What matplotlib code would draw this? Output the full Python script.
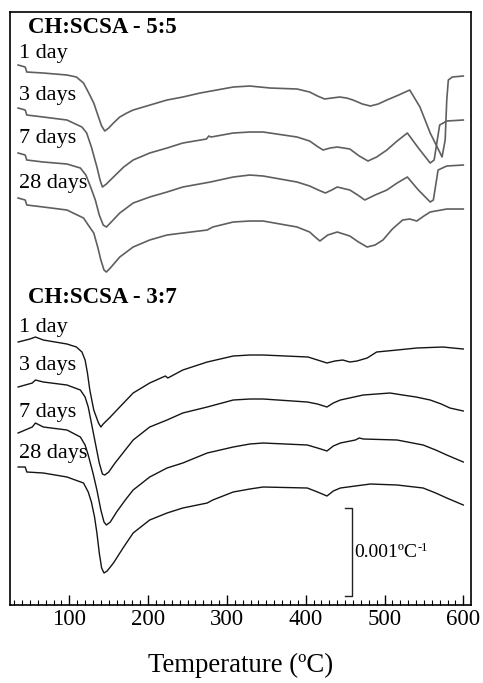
import matplotlib
matplotlib.use("Agg")
import matplotlib.pyplot as plt
from matplotlib.ticker import MultipleLocator

plt.rcParams['font.family'] = ['Liberation Serif', 'DejaVu Serif']

# ---- data: temperature (°C) and DTG signal relative to each curve start (arb. units, 88 = 0.001 °C^-1)
labels = ["1 day", "3 days", "7 days", "28 days"]

t55_1 = [35, 44, 46, 67, 97, 109, 118, 124, 131, 137, 141, 145, 150, 156, 164, 173, 181, 194, 211, 224, 244, 266, 287, 308, 329, 355, 389, 405, 415, 424, 433, 443, 452, 460, 472, 482, 492, 503, 518, 532, 545, 558, 570, 573, 577, 579, 581, 586, 600]
d55_1 = [0, -2, -7, -8, -10, -12, -18, -27, -38, -52, -61, -66, -63, -58, -52, -48, -45, -42, -38, -35, -32, -28, -25, -22, -21, -23, -24, -27, -31, -34, -33, -32, -33, -35, -39, -41, -39, -35, -30, -25, -42, -68, -87, -92, -75, -35, -15, -12, -11]
t55_3 = [35, 44, 46, 67, 97, 116, 122, 128, 135, 139, 142, 147, 156, 169, 181, 202, 224, 244, 274, 277, 280, 308, 329, 346, 389, 405, 414, 422, 431, 440, 456, 468, 479, 490, 503, 516, 529, 543, 558, 563, 570, 579, 600]
d55_3 = [0, -2, -7, -9, -12, -19, -25, -39, -59, -72, -79, -76, -69, -59, -52, -45, -40, -35, -31, -28, -29, -25, -24, -24, -29, -33, -38, -42, -40, -39, -41, -48, -53, -49, -42, -33, -25, -40, -55, -52, -17, -13, -12]
t55_7 = [35, 44, 46, 67, 97, 114, 121, 127, 133, 138, 143, 147, 152, 164, 181, 202, 224, 244, 279, 308, 329, 346, 389, 405, 416, 425, 433, 440, 456, 466, 475, 488, 503, 516, 529, 543, 558, 562, 568, 579, 600]
d55_7 = [0, -2, -7, -9, -11, -15, -22, -34, -47, -62, -72, -74, -70, -60, -50, -44, -39, -34, -29, -24, -22, -23, -29, -33, -37, -40, -37, -34, -37, -42, -47, -42, -37, -30, -24, -37, -49, -47, -17, -13, -12]
t55_28 = [35, 44, 46, 67, 97, 118, 124, 131, 136, 140, 144, 147, 152, 164, 181, 202, 224, 244, 275, 282, 308, 329, 346, 389, 405, 412, 418, 428, 440, 456, 467, 478, 488, 498, 510, 523, 532, 541, 550, 558, 579, 600]
d55_28 = [0, -2, -7, -9, -12, -20, -27, -35, -49, -62, -72, -74, -70, -59, -49, -42, -37, -35, -32, -29, -24, -23, -23, -29, -34, -39, -43, -37, -34, -38, -44, -49, -47, -42, -31, -22, -21, -23, -18, -14, -11, -11]

t37_1 = [35, 50, 57, 67, 97, 109, 116, 120, 123, 126, 131, 137, 140, 143, 152, 164, 181, 202, 219, 222, 225, 244, 275, 308, 329, 346, 403, 415, 427, 437, 447, 456, 465, 478, 490, 516, 541, 574, 600]
d37_1 = [0, 3, 5, 2, -2, -5, -10, -18, -31, -48, -68, -81, -85, -82, -75, -65, -51, -41, -35, -34, -36, -28, -20, -14, -13, -13, -15, -18, -21, -19, -18, -20, -19, -16, -10, -8, -6, -5, -7]
t37_3 = [35, 53, 57, 67, 97, 114, 120, 124, 128, 133, 138, 142, 145, 150, 158, 169, 181, 202, 224, 244, 275, 308, 329, 346, 402, 415, 427, 435, 444, 473, 507, 523, 540, 558, 572, 583, 600]
d37_3 = [0, 4, 7, 5, 2, -3, -10, -20, -36, -56, -76, -87, -88, -85, -76, -65, -53, -40, -33, -26, -20, -13, -12, -12, -15, -17, -20, -16, -13, -8, -6, -8, -10, -13, -17, -21, -24]
t37_7 = [35, 53, 57, 67, 97, 114, 120, 124, 130, 135, 140, 144, 147, 152, 160, 171, 181, 202, 224, 244, 275, 308, 329, 346, 402, 415, 427, 435, 444, 463, 468, 473, 516, 549, 565, 579, 600]
d37_7 = [0, 6, 10, 6, 3, -4, -12, -22, -40, -57, -77, -89, -92, -89, -79, -67, -57, -44, -35, -30, -20, -14, -11, -10, -12, -15, -18, -13, -10, -7, -5, -6, -7, -12, -17, -22, -29]
t37_28 = [35, 44, 46, 67, 97, 118, 124, 128, 132, 135, 138, 141, 144, 148, 156, 169, 181, 202, 224, 244, 275, 282, 308, 329, 346, 402, 415, 427, 435, 444, 482, 516, 549, 565, 579, 600]
d37_28 = [0, 0, -5, -6, -10, -16, -25, -35, -50, -66, -86, -101, -106, -104, -96, -80, -66, -53, -46, -41, -36, -33, -25, -22, -20, -21, -25, -29, -24, -21, -17, -18, -21, -26, -31, -38]

# vertical offsets of each curve start (arb. units)
off55 = [-65, -108, -153, -198]
off37 = [-342, -387, -433, -467]

panel_titles = ["CH:SCSA - 5:5", "CH:SCSA - 3:7"]
scale_label = "0.001ºC"
scale_sup = "-1"
scale_len = 88

fig = plt.figure(figsize=(4.83, 6.83), dpi=100)
ax = fig.add_axes([0.0207, 0.1142, 0.9545, 0.8682])

top_curves = [(t55_1, d55_1), (t55_3, d55_3), (t55_7, d55_7), (t55_28, d55_28)]
bot_curves = [(t37_1, d37_1), (t37_3, d37_3), (t37_7, d37_7), (t37_28, d37_28)]

for (t, d), o in zip(top_curves, off55):
    ax.plot(t, [v + o for v in d], color='#5f5f5f', lw=1.2, solid_joinstyle='round')
for (t, d), o in zip(bot_curves, off37):
    ax.plot(t, [v + o for v in d], color='#151515', lw=1.0, solid_joinstyle='round')

# labels
lab_y55 = [-53, -95, -138, -183]
lab_y37 = [-327, -365, -412, -453]
for lab, y in zip(labels, lab_y55):
    ax.text(36, y, lab, fontsize=16, va='center', ha='left')
for lab, y in zip(labels, lab_y37):
    ax.text(36, y, lab, fontsize=16, va='center', ha='left')
ax.text(47, -27, panel_titles[0], fontsize=16.5, fontweight='bold', va='center', ha='left')
ax.text(47, -297, panel_titles[1], fontsize=16.5, fontweight='bold', va='center', ha='left')

# scale bar
sx = 459
ytop, ybot = -508, -508 - scale_len
ax.plot([450, sx, sx, 450], [ytop, ytop, ybot, ybot], color='#222222', lw=1.0)
main = ax.text(462, (ytop + ybot) / 2, scale_label, fontsize=14, va='center', ha='left')
ax.annotate(scale_sup, xy=(1.0, 1.0), xycoords=main, fontsize=9, va='top', ha='left',
            xytext=(0, 1), textcoords='offset points')

ax.set_xlim(24.7, 609.8)
ax.set_ylim(-605, -12)
ax.set_yticks([])
ax.xaxis.set_major_locator(MultipleLocator(100))
ax.xaxis.set_minor_locator(MultipleLocator(10))
ax.tick_params(axis='x', which='major', direction='in', length=7, width=1, labelsize=16.5, pad=3)
ax.tick_params(axis='x', which='minor', direction='in', length=3.5, width=0.8)
ax.set_xlabel("Temperature (ºC)", fontsize=19.3, labelpad=16)
for sp in ax.spines.values():
    sp.set_linewidth(1.2)

fig.savefig("out.png", dpi=100)
